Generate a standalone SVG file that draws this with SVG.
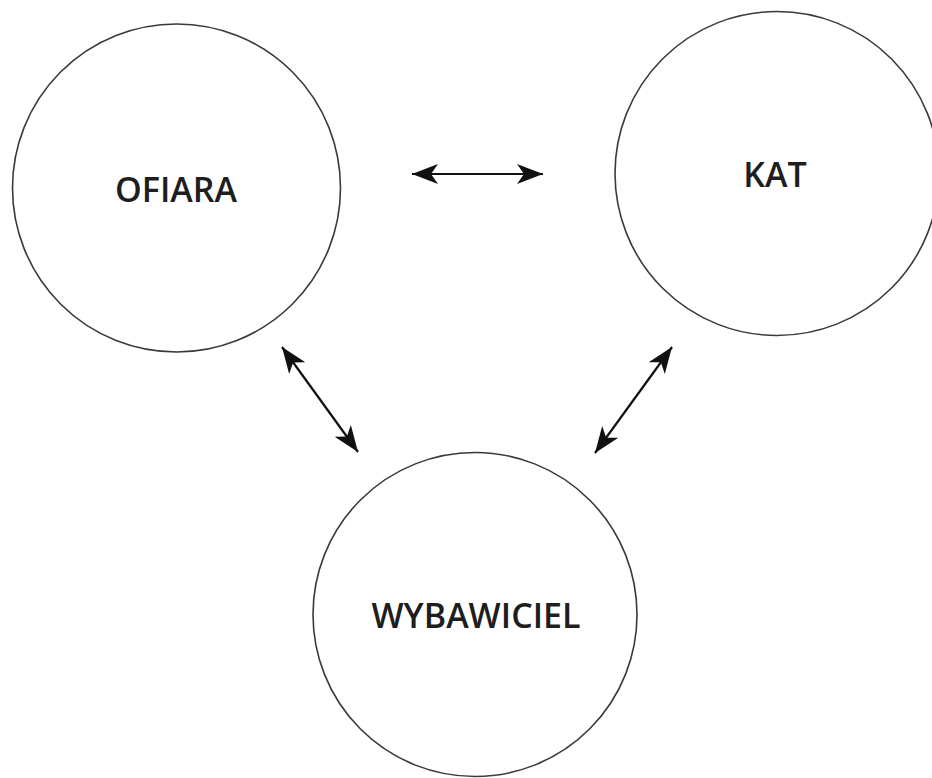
<svg xmlns="http://www.w3.org/2000/svg" width="932" height="778" viewBox="0 0 932 778">
  <style>
    .node { fill: #ffffff; stroke: #3a3a3a; stroke-width: 1.6; }
    .label { font-family: "Open Sans", "Liberation Sans", sans-serif; font-weight: 600; font-size: 34px; fill: #1e1e1e; text-anchor: middle; }
    .conn { stroke: #111111; stroke-width: 2.2; fill: none; marker-start: url(#arrow); marker-end: url(#arrow); }
  </style>
  <defs>
    <marker id="arrow" viewBox="0 0 26 20" refX="26" refY="10" markerWidth="26" markerHeight="20" markerUnits="userSpaceOnUse" orient="auto-start-reverse">
      <path d="M0,0 L26,10 L0,20 L7,10 z" fill="#111111"/>
    </marker>
  </defs>
  <rect width="932" height="778" fill="#ffffff"/>
  <g id="connectors">
    <line class="conn" x1="412" y1="174" x2="543" y2="174"/>
    <line class="conn" x1="282" y1="347" x2="358" y2="452"/>
    <line class="conn" x1="672" y1="347" x2="595" y2="453"/>
  </g>
  <g id="node-ofiara">
    <circle class="node" cx="176.5" cy="188" r="164"/>
    <text class="label" x="176" y="202">OFIARA</text>
  </g>
  <g id="node-kat">
    <circle class="node" cx="777" cy="173.5" r="162"/>
    <text class="label" x="775" y="187">KAT</text>
  </g>
  <g id="node-wybawiciel">
    <circle class="node" cx="475" cy="614.5" r="162"/>
    <text class="label" x="476" y="628">WYBAWICIEL</text>
  </g>
</svg>
